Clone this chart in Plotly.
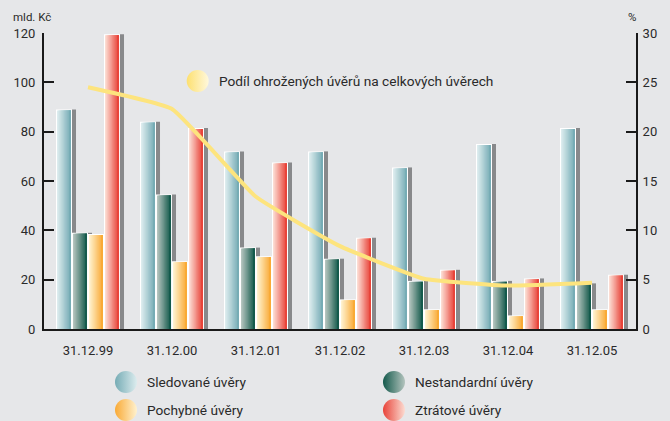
import plotly.graph_objects as go

# ---------------- data ----------------
dates = ["31.12.99", "31.12.00", "31.12.01", "31.12.02", "31.12.03", "31.12.04", "31.12.05"]
sledovane = [89, 84, 72, 72, 65.5, 75, 81.5]
nestandardni = [39, 54.5, 33, 28.5, 19.5, 19.5, 18.5]
pochybne = [38.5, 27.5, 29.5, 12, 8, 5.5, 8]
ztratove = [119.5, 81.5, 67.5, 37, 24, 20.5, 22]
podil = [24.5, 22.3, 13.4, 8.4, 5.1, 4.4, 4.7]

series_names = ["Sledované úvěry", "Nestandardní úvěry", "Pochybné úvěry", "Ztrátové úvěry"]
line_name = "Podíl ohrožených úvěrů na celkových úvěrech"
left_unit = "mld. Kč"
right_unit = "%"

# ---------------- styling ----------------
BG = "#e6e7e9"
AXC = "#1a1a1a"
TXT = "#2a2a2a"
FONT = "Roboto, 'Open Sans', sans-serif"
grad = [("#dcecee", "#76acb5"), ("#b4c4be", "#145a4c"), ("#fff2cf", "#f9aa36"), ("#fcdcd2", "#e8443a")]
SHADOW = "#88898b"
LINEC = "#fde47e"

FW, FH = 670, 421
PL, PR, PT, PB = 44, 636, 33, 329   # plot area in pixels

x = list(range(len(dates)))
PX = 1 / 84.0           # category units per pixel
YPX = 120 / 296.0       # y units per pixel
W = 16 * PX
SHW = 4 * PX
K = 12


def hex2rgb(h):
    h = h.lstrip("#")
    return [int(h[i:i + 2], 16) for i in (0, 2, 4)]


def lerp(c0, c1, t):
    a, b = hex2rgb(c0), hex2rgb(c1)
    return "rgb(%d,%d,%d)" % tuple(round(a[i] + (b[i] - a[i]) * t) for i in range(3))


fig = go.Figure()
values = [sledovane, nestandardni, pochybne, ztratove]
for s, vals in enumerate(values):
    start = -2 * W + s * W
    c0, c1 = grad[s]
    fig.add_bar(x=x, y=vals, offset=start + W, width=SHW, marker=dict(color=SHADOW, line_width=0),
                hoverinfo="skip", showlegend=False)
    fig.add_bar(x=x, y=vals, offset=start, width=W, marker=dict(color="white", line_width=0),
                hoverinfo="skip", showlegend=False)
    inner_start = start + PX
    inner_w = W - 2 * PX
    inner_vals = [v - YPX for v in vals]
    for k in range(K):
        off = inner_start + inner_w * k / K
        fig.add_bar(x=x, y=inner_vals, offset=off, width=inner_start + inner_w - off,
                    marker=dict(color=lerp(c0, c1, k / (K - 1)), line_width=0),
                    hoverinfo="skip", showlegend=False, name=series_names[s])

fig.add_scatter(x=x, y=podil, yaxis="y2", mode="lines", name=line_name,
                line=dict(color=LINEC, width=4, shape="spline", smoothing=0.35),
                showlegend=False, hoverinfo="skip")

# ---------- custom legend (page-pixel overlay axes) ----------
leg_items = [
    (197.7, 81, ("#fff8dc", "#fde070"), line_name),
    (126, 382, grad[0], series_names[0]),
    (394, 382, grad[1], series_names[1]),
    (126, 410, grad[2], series_names[2]),
    (394, 410, grad[3], series_names[3]),
]
annotations = []
for (lx, ly, (ca, cb), label) in leg_items:
    fig.add_scatter(x=[lx], y=[ly], xaxis="x3", yaxis="y3", mode="markers", cliponaxis=False,
                    marker=dict(size=22, color=cb, line_width=0,
                                gradient=dict(type="horizontal", color=ca)),
                    showlegend=False, hoverinfo="skip")
    annotations.append(dict(x=lx + 19, y=ly, xref="x3", yref="y3", text=label, showarrow=False,
                            xanchor="left", yanchor="middle", font=dict(size=13.7, color=TXT, family=FONT)))

annotations.append(dict(x=32, y=17, xref="x3", yref="y3", text=left_unit, showarrow=False,
                        xanchor="center", yanchor="middle", font=dict(size=11.5, color=TXT, family=FONT)))
annotations.append(dict(x=632, y=17, xref="x3", yref="y3", text=right_unit, showarrow=False,
                        xanchor="center", yanchor="middle", font=dict(size=11.5, color=TXT, family=FONT)))

axis_common = dict(showgrid=False, zeroline=False, showline=True, linecolor=AXC, linewidth=2,
                   ticks="inside", ticklen=10, tickwidth=2, tickcolor=AXC,
                   tickfont=dict(size=13, color=TXT, family=FONT))

xdom = [PL / FW, PR / FW]
ydom = [(FH - PB) / FH, (FH - PT) / FH]

fig.update_layout(
    width=FW, height=FH,
    margin=dict(l=0, r=0, t=0, b=0, autoexpand=False),
    paper_bgcolor=BG, plot_bgcolor="rgba(0,0,0,0)",
    barmode="overlay",
    font=dict(family=FONT, color=TXT),
    xaxis=dict(domain=xdom, anchor="y", range=[-0.524, 6.524], tickvals=x, ticktext=dates, showgrid=False,
               zeroline=False, showline=True, linecolor=AXC, linewidth=2, ticks="",
               ticklabelstandoff=8, tickfont=dict(size=13, color=TXT, family=FONT)),
    yaxis=dict(domain=ydom, anchor="x", range=[0, 120], dtick=20, ticklabelstandoff=4, **axis_common),
    yaxis2=dict(range=[0, 30], dtick=5, overlaying="y", anchor="x", side="right", ticklabelstandoff=2,
                **axis_common),
    xaxis3=dict(domain=[0, 1], range=[0, FW], anchor="y3", visible=False, fixedrange=True),
    yaxis3=dict(domain=[0, 1], range=[FH, 0], anchor="x3", visible=False, fixedrange=True),
    annotations=annotations,
    showlegend=False,
)

fig.write_html("out.html", config={"displayModeBar": False},
               post_script="document.body.style.margin='0';document.body.style.overflow='hidden';")
